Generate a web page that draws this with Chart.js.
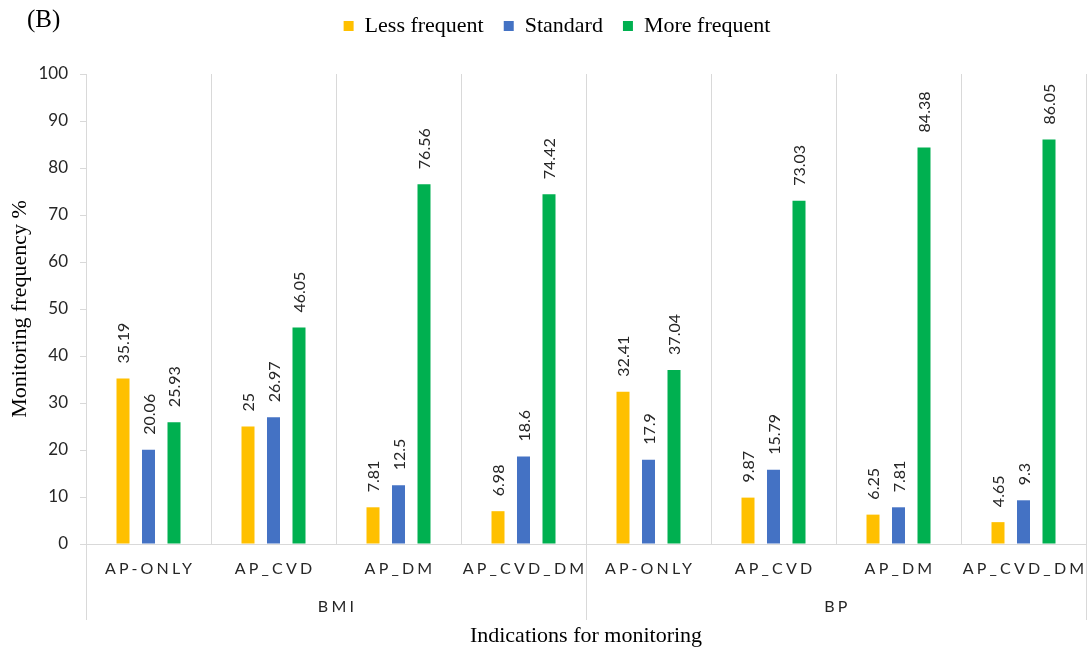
<!DOCTYPE html>
<html>
<head>
<meta charset="utf-8">
<script src="https://cdn.jsdelivr.net/npm/chart.js@4.4.0/dist/chart.umd.min.js"></script>
<style>
  body { margin: 0; background: #fff; }
</style>
</head>
<body>
<canvas id="chart" width="1088" height="653"></canvas>
<script>
// =============================
// Data
// =============================
const categories = ["AP-ONLY", "AP_CVD", "AP_DM", "AP_CVD_DM", "AP-ONLY", "AP_CVD", "AP_DM", "AP_CVD_DM"];
const groups = ["BMI", "BP"];
const groupSize = 4;
const lessFrequent = [35.19, 25, 7.81, 6.98, 32.41, 9.87, 6.25, 4.65];
const standard = [20.06, 26.97, 12.5, 18.6, 17.9, 15.79, 7.81, 9.3];
const moreFrequent = [25.93, 46.05, 76.56, 74.42, 37.04, 73.03, 84.38, 86.05];
const yMin = 0;
const yMax = 100;
const yStep = 10;

const SERIF = "'Liberation Serif', 'Times New Roman', serif";
const SANS = "Lato, 'Open Sans', sans-serif";
const LINE = "#d9d9d9";
const TEXT = "#262626";

// =============================
// Extra drawing: value labels, two-level axis, panel letter
// =============================
const extras = {
  id: "extras",
  beforeLayout(chart) {
    // keep the legend band tall enough so the plot starts lower
    const lg = chart.legend;
    if (lg && !lg._tall) {
      const fit = lg.fit;
      lg.fit = function () {
        fit.call(this);
        this.height = 79;
      };
      lg._tall = true;
    }
  },
  afterDatasetsDraw(chart) {
    const ctx = chart.ctx;
    ctx.save();
    ctx.font = "16px " + SANS;
    ctx.fillStyle = TEXT;
    ctx.textAlign = "left";
    ctx.textBaseline = "middle";
    chart.data.datasets.forEach((ds, i) => {
      chart.getDatasetMeta(i).data.forEach((bar, j) => {
        ctx.save();
        ctx.translate(bar.x + 1, bar.y - 15);
        ctx.rotate(-Math.PI / 2);
        ctx.fillText(String(ds.data[j]), 0, 0);
        ctx.restore();
      });
    });
    ctx.restore();
  },
  afterDraw(chart) {
    const ctx = chart.ctx;
    const x = chart.scales.x;
    const area = chart.chartArea;
    ctx.save();

    // long separators through the label area
    const bounds = [x.left];
    for (let g = 1; g < groups.length; g++) {
      const i = g * groupSize;
      bounds.push((x.getPixelForValue(i - 1) + x.getPixelForValue(i)) / 2);
    }
    bounds.push(x.right);
    ctx.strokeStyle = LINE;
    ctx.lineWidth = 1;
    bounds.forEach((bx) => {
      const px = Math.round(bx) + 0.5;
      ctx.beginPath();
      ctx.moveTo(px, area.bottom);
      ctx.lineTo(px, area.bottom + 76);
      ctx.stroke();
    });

    // category labels (letter spaced)
    ctx.fillStyle = TEXT;
    ctx.textAlign = "center";
    ctx.textBaseline = "middle";
    ctx.font = "16px " + SANS;
    ctx.letterSpacing = "3.2px";
    categories.forEach((c, i) => {
      ctx.fillText(c, x.getPixelForValue(i) + 1.5, area.bottom + 25);
    });

    // group labels
    groups.forEach((g, k) => {
      const a = x.getPixelForValue(k * groupSize);
      const b = x.getPixelForValue(k * groupSize + groupSize - 1);
      ctx.fillText(g, (a + b) / 2 + 1.5, area.bottom + 63);
    });
    ctx.letterSpacing = "0px";

    // panel letter
    ctx.font = "25px " + SERIF;
    ctx.fillStyle = "#000";
    ctx.textAlign = "left";
    ctx.fillText("(B)", 27, 20);
    ctx.restore();
  }
};

// =============================
// Chart
// =============================
const ctx = document.getElementById("chart").getContext("2d");
new Chart(ctx, {
  type: "bar",
  data: {
    labels: categories,
    datasets: [
      { label: "Less frequent", data: lessFrequent, backgroundColor: "#FFC000" },
      { label: "Standard", data: standard, backgroundColor: "#4472C4" },
      { label: "More frequent", data: moreFrequent, backgroundColor: "#00B050" },
    ],
  },
  options: {
    responsive: false,
    animation: false,
    layout: { padding: { left: 28, right: 2, top: -5, bottom: 0 } },
    datasets: {
      bar: { categoryPercentage: 0.612, barPercentage: 0.51 },
    },
    plugins: {
      legend: {
        position: "top",
        labels: {
          boxWidth: 10,
          boxHeight: 10,
          padding: 20,
          color: "#000",
          font: { family: SERIF, size: 22 },
        },
      },
      tooltip: { enabled: false },
    },
    scales: {
      x: {
        type: "category",
        offset: true,
        grid: { offset: true, color: LINE, drawTicks: false },
        border: { color: LINE },
        ticks: { display: false },
        title: {
          display: true,
          text: "Indications for monitoring",
          color: "#000",
          font: { family: SERIF, size: 22 },
          padding: { top: 0, bottom: 4 },
        },
        afterFit: (s) => { s.height = 109; },
      },
      y: {
        min: yMin,
        max: yMax,
        ticks: { stepSize: yStep, color: TEXT, padding: 12, font: { family: SANS, size: 17 } },
        grid: { drawOnChartArea: false, drawTicks: true, tickLength: 6, color: LINE },
        border: { color: LINE },
        title: {
          display: true,
          text: "Monitoring frequency %",
          color: "#000",
          font: { family: SERIF, size: 22 },
          padding: { top: -21, bottom: 0 },
        },
        afterFit: (s) => { s.width = 58; },
      },
    },
  },
  plugins: [extras],
});
</script>
</body>
</html>
